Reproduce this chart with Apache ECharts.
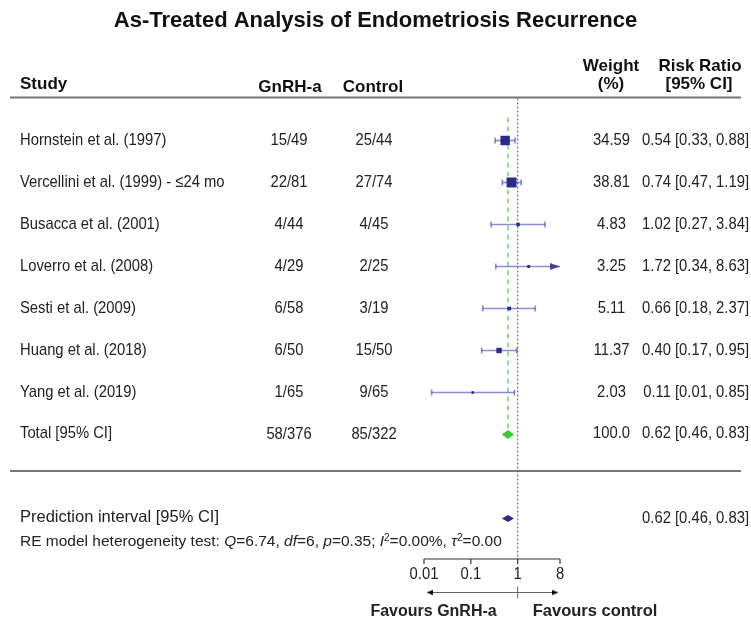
<!DOCTYPE html>
<html><head><meta charset="utf-8">
<script src="https://cdn.jsdelivr.net/npm/echarts@6/dist/echarts.min.js"></script>
<style>html,body{margin:0;padding:0;background:#fff}#c{width:751px;height:620px}</style>
</head><body><div id="c"></div>
<script>
// ---------------- data ----------------
const studies = ['Hornstein et al. (1997)', 'Vercellini et al. (1999) - \u226424 mo', 'Busacca et al. (2001)',
  'Loverro et al. (2008)', 'Sesti et al. (2009)', 'Huang et al. (2018)', 'Yang et al. (2019)'];
const gnrhEvents = ['15/49', '22/81', '4/44', '4/29', '6/58', '6/50', '1/65'];
const controlEvents = ['25/44', '27/74', '4/45', '2/25', '3/19', '15/50', '9/65'];
const weights = [34.59, 38.81, 4.83, 3.25, 5.11, 11.37, 2.03];
const riskRatios = [0.54, 0.74, 1.02, 1.72, 0.66, 0.40, 0.11];
const ciLower = [0.33, 0.47, 0.27, 0.34, 0.18, 0.17, 0.0145];
const ciUpper = [0.88, 1.19, 3.84, 8.63, 2.37, 0.95, 0.85];
const totalLabel = 'Total [95% CI]';
const totalGnrh = '58/376';
const totalControl = '85/322';
const totalWeight = '100.0';
const totalRR = [0.62, 0.46, 0.83];
const predLabel = 'Prediction interval [95% CI]';
const predRR = [0.62, 0.46, 0.83];
const xTicks = [0.01, 0.1, 1, 8];
const xMin = 0.01, xMax = 8;
const hetText = 'RE model heterogeneity test: {i|Q}=6.74, {i|df}=6, {i|p}=0.35; {i|I}{s|2}=0.00%, {i|\u03c4}{s|2}=0.00';

// ---------------- layout / style ----------------
const SANS = "'Liberation Sans',Arial,Helvetica,sans-serif";
const BODY = '17px ' + SANS;
const NARROW_SCALE = 0.87;
const NAVY = '#2a2a8e';
const CI_COLOR = 'rgba(50,50,170,0.55)';
const GREEN = '#33cc33';
const totalRow = studies.length;
const predRow = totalRow + 2;
const col = { study: 20, gnrh: 289, ctrl: 374, weight: 611.5, rr: 749 };
const fmtCI = (e, l, h) => e.toFixed(2) + ' [' + l.toFixed(2) + ', ' + h.toFixed(2) + ']';

const forestData = studies.map((s, i) => [i, riskRatios[i], ciLower[i], ciUpper[i], weights[i]]);
const diamondData = [[totalRow, totalRR[0], totalRR[1], totalRR[2], 0], [predRow, predRR[0], predRR[1], predRR[2], 1]];
const tableData = studies.map((s, i) => [i]).concat([[totalRow], [predRow]]);

function txt(x, y, text, align, font, sx) {
  return { type: 'text', x: x, y: y, scaleX: sx == null ? NARROW_SCALE : sx,
    style: { text: text, align: align, verticalAlign: 'middle', font: font || BODY, fill: '#222' } };
}

function forestItem(params, api) {
  const i = api.value(0), est = api.value(1), lo = api.value(2), hi = api.value(3), w = api.value(4);
  const y = api.coord([1, i])[1];
  const xl = api.coord([Math.max(lo, xMin), i])[0];
  const xh = api.coord([Math.min(hi, xMax), i])[0];
  const xe = api.coord([est, i])[0];
  const s = Math.max(2.6, 1.6 * Math.sqrt(w));
  const line = { stroke: CI_COLOR, lineWidth: 1.7 };
  const ch = [
    { type: 'line', shape: { x1: xl, y1: y, x2: xh, y2: y }, style: line },
    { type: 'line', shape: { x1: xl, y1: y - 3, x2: xl, y2: y + 3 }, style: line }
  ];
  if (hi > xMax) {
    ch.push({ type: 'polygon', shape: { points: [[xh, y], [xh - 10, y - 3.5], [xh - 10, y + 3.5]] },
      style: { fill: 'rgba(42,42,142,0.85)' } });
  } else {
    ch.push({ type: 'line', shape: { x1: xh, y1: y - 3, x2: xh, y2: y + 3 }, style: line });
  }
  ch.push({ type: 'rect', shape: { x: xe - s / 2, y: y - s * 0.5, width: s, height: s }, style: { fill: NAVY } });
  return { type: 'group', children: ch };
}

function diamondItem(params, api) {
  const r = api.value(0), est = api.value(1), lo = api.value(2), hi = api.value(3), kind = api.value(4);
  const y = api.coord([1, r])[1];
  const xe = api.coord([est, r])[0], xl = api.coord([lo, r])[0], xh = api.coord([hi, r])[0];
  const h = kind === 0 ? 4.5 : 3.5;
  return { type: 'polygon', shape: { points: [[xl, y], [xe, y - h], [xh, y], [xe, y + h]] },
    style: { fill: kind === 0 ? GREEN : NAVY } };
}

function axisItem(params, api) {
  const top = api.coord([1, -1])[1];
  const axisY = api.coord([1, 10])[1] - 1.5;
  const x1 = api.coord([1, 0])[0];
  const xr = api.coord([totalRR[0], 0])[0];
  const xa = api.coord([xMin, 0])[0], xb = api.coord([xMax, 0])[0];
  const ch = [];
  ch.push({ type: 'line', shape: { x1: x1, y1: top, x2: x1, y2: axisY }, style: { stroke: '#555', lineWidth: 1, lineDash: [2, 2] } });
  ch.push({ type: 'line', shape: { x1: xr, y1: api.coord([1, -0.55])[1], x2: xr, y2: api.coord([1, totalRow])[1] },
    style: { stroke: '#44d444', lineWidth: 1.2, lineDash: [5, 4] } });
  ch.push({ type: 'line', shape: { x1: xa, y1: axisY, x2: xb, y2: axisY }, style: { stroke: '#333', lineWidth: 1.2 } });
  xTicks.forEach(t => {
    const xt = api.coord([t, 0])[0];
    ch.push({ type: 'line', shape: { x1: xt, y1: axisY, x2: xt, y2: axisY + 5 }, style: { stroke: '#333', lineWidth: 1.2 } });
    ch.push(txt(xt, axisY + 15, String(t), 'center'));
  });
  const ay = axisY + 33.5;
  const ast = { stroke: '#666', lineWidth: 1 };
  ch.push({ type: 'line', shape: { x1: xa + 3, y1: ay, x2: xb - 2, y2: ay }, style: ast });
  ch.push({ type: 'polyline', shape: { points: [[xa + 9, ay - 2.5], [xa + 3, ay], [xa + 9, ay + 2.5]] }, style: ast });
  ch.push({ type: 'polyline', shape: { points: [[xb - 8, ay - 2.5], [xb - 2, ay], [xb - 8, ay + 2.5]] }, style: ast });
  ch.push({ type: 'line', shape: { x1: x1, y1: ay - 6, x2: x1, y2: ay + 6 }, style: ast });
  ch.push(txt(x1 - 21, ay + 19, 'Favours GnRH-a', 'right', 'bold 16px ' + SANS, 1));
  ch.push(txt(x1 + 15, ay + 19, 'Favours control', 'left', 'bold 16.5px ' + SANS, 1));
  return { type: 'group', children: ch };
}

function tableItem(params, api) {
  const r = api.value(0);
  const y = api.coord([0, r])[1];
  const X = k => api.coord([col[k], r])[0];
  const ch = [];
  if (r < totalRow) {
    ch.push(txt(X('study'), y, studies[r], 'left'));
    ch.push(txt(X('gnrh'), y, gnrhEvents[r], 'center'));
    ch.push(txt(X('ctrl'), y, controlEvents[r], 'center'));
    ch.push(txt(X('weight'), y, weights[r].toFixed(2), 'center'));
    ch.push(txt(X('rr'), y, fmtCI(riskRatios[r], ciLower[r], ciUpper[r]), 'right'));
  } else if (r === totalRow) {
    ch.push(txt(X('study'), y - 1, totalLabel, 'left'));
    ch.push(txt(X('gnrh'), y, totalGnrh, 'center'));
    ch.push(txt(X('ctrl'), y, totalControl, 'center'));
    ch.push(txt(X('weight'), y - 1, totalWeight, 'center'));
    ch.push(txt(X('rr'), y - 1, fmtCI(totalRR[0], totalRR[1], totalRR[2]), 'right'));
  } else {
    ch.push(txt(X('study'), y - 1, predLabel, 'left', '16.5px ' + SANS, 1));
    ch.push(txt(X('rr'), y, fmtCI(predRR[0], predRR[1], predRR[2]), 'right'));
    ch.push({ type: 'text', x: X('study'), y: y + 23, style: {
      text: hetText, align: 'left', verticalAlign: 'middle', font: '15.5px ' + SANS, fill: '#222',
      rich: { i: { font: 'italic 15.5px ' + SANS, fill: '#222' },
              s: { font: '10px ' + SANS, verticalAlign: 'top', fill: '#222' } } } });
  }
  return { type: 'group', children: ch };
}

const G = { top: 98.5, bottom: 59.5 };
const hdr = (x, y, t, align) => ({ type: 'text', x: x, y: y, style: { text: t, align: align, verticalAlign: 'middle', font: 'bold 17px ' + SANS, fill: '#111' } });

const chart = echarts.init(document.getElementById('c'), null, { renderer: 'canvas' });
chart.setOption({
  animation: false,
  backgroundColor: '#fff',
  grid: [
    { left: 424, right: 191, top: G.top, bottom: G.bottom },
    { left: 0, right: 0, top: G.top, bottom: G.bottom }
  ],
  xAxis: [
    { type: 'log', logBase: 10, min: xMin, max: xMax, show: false, gridIndex: 0 },
    { type: 'value', min: 0, max: 751, show: false, gridIndex: 1 }
  ],
  yAxis: [
    { type: 'value', min: -1, max: 10, inverse: true, show: false, gridIndex: 0 },
    { type: 'value', min: -1, max: 10, inverse: true, show: false, gridIndex: 1 }
  ],
  graphic: [
    { type: 'text', x: 375.5, y: 21, style: { text: 'As-Treated Analysis of Endometriosis Recurrence', align: 'center', verticalAlign: 'middle', font: 'bold 22px ' + SANS, fill: '#111' } },
    hdr(20, 84, 'Study', 'left'),
    hdr(290, 87, 'GnRH-a', 'center'),
    hdr(373, 87, 'Control', 'center'),
    hdr(611, 66, 'Weight', 'center'),
    hdr(611, 84, '(%)', 'center'),
    hdr(700, 66, 'Risk Ratio', 'center'),
    hdr(699, 84, '[95% CI]', 'center'),
    { type: 'line', shape: { x1: 10, y1: 97.5, x2: 741, y2: 97.5 }, style: { stroke: '#777', lineWidth: 2 } },
    { type: 'line', shape: { x1: 10, y1: 471, x2: 741, y2: 471 }, style: { stroke: '#777', lineWidth: 2 } }
  ],
  series: [
    { type: 'custom', xAxisIndex: 1, yAxisIndex: 1, renderItem: tableItem, data: tableData, encode: { x: -1, y: 0 }, clip: false, silent: true },
    { type: 'custom', xAxisIndex: 0, yAxisIndex: 0, renderItem: axisItem, data: [[1, 0]], encode: { x: 0, y: 1 }, clip: false, silent: true, z: 1 },
    { type: 'custom', xAxisIndex: 0, yAxisIndex: 0, renderItem: forestItem, data: forestData, encode: { x: [1, 2, 3], y: 0 }, clip: false, silent: true, z: 3 },
    { type: 'custom', xAxisIndex: 0, yAxisIndex: 0, renderItem: diamondItem, data: diamondData, encode: { x: [1, 2, 3], y: 0 }, clip: false, silent: true, z: 3 }
  ]
});
</script>
</body></html>
